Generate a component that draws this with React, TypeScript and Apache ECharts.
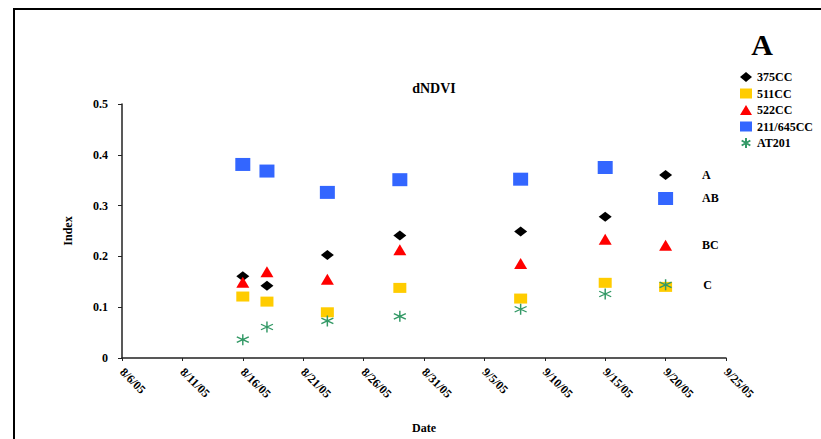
import React, { useEffect, useRef } from "react";
import * as echarts from "echarts";

const tickLabels = ["8/6/05", "8/11/05", "8/16/05", "8/21/05", "8/26/05", "8/31/05", "9/5/05", "9/10/05", "9/15/05", "9/20/05", "9/25/05"];
const dates = ["8/16/05", "8/18/05", "8/23/05", "8/29/05", "9/8/05", "9/15/05", "9/20/05"];
const s375 = [0.161, 0.142, 0.203, 0.241, 0.249, 0.278, 0.36];
const s511 = [0.121, 0.111, 0.09, 0.138, 0.117, 0.148, 0.14];
const s522 = [0.149, 0.17, 0.155, 0.213, 0.186, 0.234, 0.222];
const s211 = [0.381, 0.368, 0.326, 0.351, 0.352, 0.375, 0.314];
const sAT = [0.036, 0.061, 0.073, 0.082, 0.096, 0.126, 0.144];
const seriesNames = ["375CC", "511CC", "522CC", "211/645CC", "AT201"];
const groupLetters: Record<string, string> = { "375CC": "A", "211/645CC": "AB", "522CC": "BC", AT201: "C" };

const FONT = "'Liberation Serif', 'Times New Roman', serif";

function dayOffset(s: string): number {
  const [m, d, y] = s.split("/").map(Number);
  const t = Date.UTC(2000 + y, m - 1, d);
  const t0 = Date.UTC(2005, 7, 6);
  return Math.round((t - t0) / 86400000);
}

export default function App() {
  const ref = useRef<HTMLDivElement>(null);
  useEffect(() => {
    if (!ref.current) return;
    const chart = echarts.init(ref.current, undefined, { renderer: "svg" });
    const mk = (name: string, vals: number[], symbol: string, size: number[], color: string, dist: number, extra: any = {}) => ({
      name,
      type: "scatter",
      symbol,
      symbolSize: size,
      itemStyle: { color, opacity: 1, ...extra },
      data: vals.map((v, i) => {
        const item: any = { value: [dayOffset(dates[i]), v] };
        if (i === vals.length - 1 && groupLetters[name]) {
          item.label = {
            show: true,
            formatter: groupLetters[name],
            position: "right",
            distance: dist,
            fontFamily: FONT,
            fontWeight: "bold",
            fontSize: 12,
            color: "#000",
          };
        }
        return item;
      }),
    });
    const star = "path://M6,0 L6,12 M0.8,3 L11.2,9 M0.8,9 L11.2,3";
    chart.setOption({
      animation: false,
      backgroundColor: "#fff",
      grid: { left: 122, right: 95, top: 104, bottom: 74 },
      legend: {
        orient: "vertical",
        left: 740,
        top: 71,
        padding: 0,
        itemWidth: 12,
        itemHeight: 10,
        itemGap: 4.5,
        data: seriesNames,
        textStyle: { fontFamily: FONT, fontWeight: "bold", fontSize: 12, lineHeight: 10, color: "#000" },
      },
      graphic: [
        { type: "rect", shape: { x: 14, y: 9, width: 900, height: 500 }, style: { fill: "none", stroke: "#000", lineWidth: 2 }, silent: true },
        { type: "text", x: 434, y: 88, style: { text: "dNDVI", fontFamily: FONT, fontWeight: "bold", fontSize: 14, fill: "#000", textAlign: "center", textVerticalAlign: "middle" } },
        { type: "text", x: 762, y: 44, style: { text: "A", fontFamily: FONT, fontWeight: "bold", fontSize: 30, fill: "#000", textAlign: "center", textVerticalAlign: "middle" } },
      ],
      xAxis: {
        type: "value",
        min: 0,
        max: 50,
        interval: 5,
        name: "Date",
        nameLocation: "middle",
        nameGap: 64,
        nameTextStyle: { fontFamily: FONT, fontWeight: "bold", fontSize: 12, color: "#000" },
        axisLine: { lineStyle: { color: "#222", width: 1.5 } },
        axisTick: { show: true, length: 3, lineStyle: { color: "#222" } },
        splitLine: { show: false },
        axisLabel: {
          rotate: -45,
          margin: 12,
          fontFamily: FONT,
          fontWeight: "bold",
          fontSize: 12,
          color: "#000",
          formatter: (v: number) => tickLabels[Math.round(v / 5)] ?? "",
        },
      },
      yAxis: {
        type: "value",
        min: 0,
        max: 0.5,
        interval: 0.1,
        name: "Index",
        nameLocation: "middle",
        nameGap: 48,
        nameTextStyle: { fontFamily: FONT, fontWeight: "bold", fontSize: 12, color: "#000" },
        axisLine: { show: true, lineStyle: { color: "#222", width: 1.5 } },
        axisTick: { show: true, length: 4, lineStyle: { color: "#222" } },
        splitLine: { show: false },
        axisLabel: {
          margin: 14,
          fontFamily: FONT,
          fontWeight: "bold",
          fontSize: 12,
          color: "#000",
          formatter: (v: number) => (v === 0 ? "0" : v.toFixed(1)),
        },
      },
      series: [
        mk("375CC", s375, "diamond", [13, 10], "#000000", 30),
        mk("511CC", s511, "rect", [13, 10], "#FFCC00", 30),
        mk("522CC", s522, "triangle", [13, 11], "#FF0000", 30),
        mk("211/645CC", s211, "rect", [15, 13], "#3366FF", 29),
        mk("AT201", sAT, star, [12, 11], "transparent", 31, { borderColor: "#339966", borderWidth: 1.4 }),
      ],
    });
    return () => chart.dispose();
  }, []);
  return <div ref={ref} style={{ position: "absolute", left: 0, top: 0, width: 821, height: 439 }} />;
}
